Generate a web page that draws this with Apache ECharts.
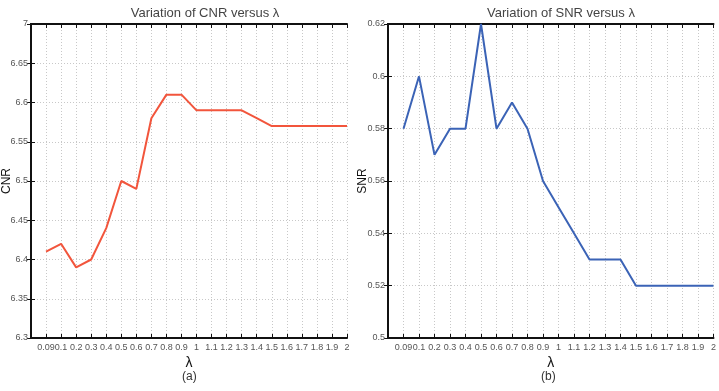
<!DOCTYPE html>
<html>
<head>
<meta charset="utf-8">
<script src="https://cdn.jsdelivr.net/npm/echarts@6/dist/echarts.min.js"></script>
<style>
  html, body { margin: 0; padding: 0; background: #fff; }
  #chart { width: 719px; height: 391px; }
</style>
</head>
<body>
<div id="chart"></div>
<script>
// lambda values shown on the x axis
const lambdaLabels = ['0.09', '0.1', '0.2', '0.3', '0.4', '0.5', '0.6', '0.7', '0.8', '0.9', '1',
  '1.1', '1.2', '1.3', '1.4', '1.5', '1.6', '1.7', '1.8', '1.9', '2']
const cnrValues = [6.41, 6.42, 6.39, 6.40, 6.44, 6.50, 6.49, 6.58, 6.61, 6.61, 6.59,
  6.59, 6.59, 6.59, 6.58, 6.57, 6.57, 6.57, 6.57, 6.57, 6.57]
const snrValues = [0.58, 0.60, 0.57, 0.58, 0.58, 0.62, 0.58, 0.59, 0.58, 0.56, 0.55,
  0.54, 0.53, 0.53, 0.53, 0.52, 0.52, 0.52, 0.52, 0.52, 0.52]

const font = 'Liberation Sans, Arial, sans-serif'
const chart = echarts.init(document.getElementById('chart'))

const grids = [
  { left: 31, right: 372, top: 24, bottom: 53 },
  { left: 388, right: 3, top: 24, bottom: 53 }
]

function xAxes(gi) {
  const base = {
    type: 'value', gridIndex: gi, min: 0, max: 21, interval: 1,
    axisLine: { show: true, lineStyle: { color: '#111', width: 2 } },
    axisTick: { show: true, inside: true, length: 4, lineStyle: { color: '#111' } }
  }
  return [
    Object.assign({}, base, {
      position: 'bottom',
      name: 'λ', nameLocation: 'middle', nameGap: 18, nameMoveOverlap: false,
      nameTextStyle: { fontSize: 14, color: '#111', fontFamily: font },
      axisLabel: {
        fontSize: 9, color: '#555', fontFamily: font, margin: 5,
        formatter: v => lambdaLabels[v - 1] || ''
      },
      splitLine: { show: true, lineStyle: { color: '#c8c8c8', type: [1, 2], width: 1 } }
    }),
    Object.assign({}, base, {
      position: 'top', axisLabel: { show: false }, splitLine: { show: false }
    })
  ]
}

function yAxes(gi, name, min, max, interval, fmt) {
  const base = {
    type: 'value', gridIndex: gi, min, max, interval,
    axisLine: { show: true, lineStyle: { color: '#111', width: 2 } },
    axisTick: { show: true, inside: true, length: 4, lineStyle: { color: '#111' } }
  }
  return [
    Object.assign({}, base, {
      position: 'left',
      name, nameLocation: 'middle', nameGap: gi === 0 ? 18 : 19, nameMoveOverlap: false,
      nameTextStyle: { fontSize: 12, color: '#111', fontFamily: font },
      axisLabel: { fontSize: 9, color: '#555', fontFamily: font, margin: 3, formatter: fmt },
      splitLine: { show: true, lineStyle: { color: '#c8c8c8', type: [1, 2], width: 1 } }
    }),
    Object.assign({}, base, {
      position: 'right', axisLabel: { show: false }, splitLine: { show: false }
    })
  ]
}

// the top CNR label is clipped to "7" in the original figure
const cnrFmt = v => (v >= 6.7 - 1e-9 ? '7' : String(+v.toFixed(2)))
const snrFmt = v => String(+v.toFixed(2))

const option = {
  backgroundColor: '#fff',
  animation: false,
  title: [
    { text: 'Variation of CNR versus λ', left: 200, top: 2, textAlign: 'center',
      textStyle: { fontSize: 13, fontWeight: 'normal', color: '#444', fontFamily: font } },
    { text: 'Variation of SNR versus λ', left: 556, top: 2, textAlign: 'center',
      textStyle: { fontSize: 13, fontWeight: 'normal', color: '#444', fontFamily: font } }
  ],
  grid: grids,
  xAxis: [...xAxes(0), ...xAxes(1)],
  yAxis: [...yAxes(0, 'CNR', 6.3, 6.7, 0.05, cnrFmt), ...yAxes(1, 'SNR', 0.5, 0.62, 0.02, snrFmt)],
  series: [
    {
      type: 'line', xAxisIndex: 0, yAxisIndex: 0, showSymbol: false,
      data: cnrValues.map((v, i) => [i + 1, v]),
      lineStyle: { color: '#f2553c', width: 2 }
    },
    {
      type: 'line', xAxisIndex: 2, yAxisIndex: 2, showSymbol: false,
      data: snrValues.map((v, i) => [i + 1, v]),
      lineStyle: { color: '#3b63b6', width: 2 }
    }
  ],
  graphic: [
    { type: 'text', left: 182, top: 371,
      style: { text: '(a)', fontSize: 12, fill: '#333', fontFamily: font } },
    { type: 'text', left: 541, top: 371,
      style: { text: '(b)', fontSize: 12, fill: '#333', fontFamily: font } }
  ]
}

chart.setOption(option)
</script>
</body>
</html>
